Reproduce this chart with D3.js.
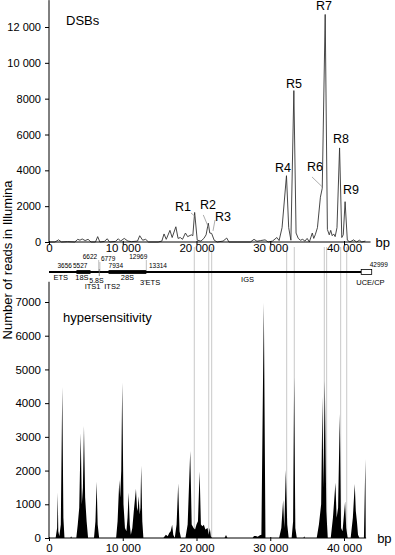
<!DOCTYPE html>
<html>
<head>
  <meta charset="UTF-8">
  <title>DSBs and hypersensitivity along the rDNA unit</title>
  <style>
    body { margin: 0; background: #fff; }
    svg { display: block; font-family: "Liberation Sans", Arial, sans-serif; }
    .tick line { stroke: #000; }
  </style>
</head>
<body>
<svg></svg>
<script src="https://d3js.org/d3.v7.min.js"></script>
<script>

// DSBs panel (reads per position)
const dsbBp = [0, 800, 1300, 1700, 2500, 3500, 3900, 4200, 4500, 4900, 5300, 5700, 6300, 6600, 6900, 7500, 7900, 8200,
  9000, 9400, 9700, 10200, 10700, 11200, 12000, 12300, 12700, 13100, 13500, 14800, 15300, 15600, 15900, 16400, 16700,
  17200, 17500, 17800, 18100, 18500, 18800, 19300, 19500, 19750, 20100, 20600, 21000, 21300, 21600, 21800, 22050, 22400,
  22800, 23600, 24100, 24400, 25500, 27300, 27800, 28200, 28700, 29300, 29700, 30300, 30900, 31200, 31600, 32200, 32500,
  32800, 33200, 33500, 33800, 34100, 34400, 34700, 35000, 35300, 35700, 35900, 36100, 36400, 36800, 37050, 37450, 37750,
  38000, 38200, 38400, 38600, 38800, 39050, 39400, 39700, 39900, 40150, 40450, 40800, 41300, 41700, 42100, 42400, 42900];
const dsbReads = [0, 0, 120, 0, 20, 0, 150, 100, 170, 80, 150, 0, 0, 300, 0, 30, 180, 0,
  30, 180, 50, 200, 50, 20, 50, 350, 100, 150, 0, 0, 50, 450, 150, 650, 250,
  850, 200, 250, 150, 500, 300, 400, 350, 1650, 100, 50, 200, 400, 1050, 500, 480, 100,
  0, 50, 220, 0, 0, 0, 150, 40, 80, 120, 0, 50, 250, 80, 800, 3700, 800,
  100, 8450, 500, 200, 100, 150, 50, 200, 0, 500, 200, 400, 800, 2500, 3000, 12700, 700,
  400, 650, 350, 450, 300, 800, 5250, 250, 400, 2250, 100, 0, 120, 0, 100, 0, 50];

// hypersensitivity panel
const hsBp = [0, 900, 1100, 1180, 1260, 1400, 1600, 1800, 1950, 2100, 2900, 3000, 3100, 3700, 3900, 4100, 4300, 4450,
  4600, 4740, 4900, 5100, 5300, 6100, 6300, 6460, 6600, 6800, 9100, 9300, 9530, 9650, 9800, 9930, 10100, 10300, 10500,
  10650, 10800, 10950, 11100, 11300, 11500, 11790, 11950, 12050, 12150, 12300, 12400, 12500, 12650, 12800, 15500, 15850,
  16100, 16300, 16500, 16700, 16850, 17050, 17300, 17520, 17700, 17900, 18500, 18800, 19150, 19350, 19600, 19800, 20000,
  20200, 20420, 20600, 20800, 21000, 21200, 21500, 21650, 21800, 21950, 22100, 23800, 24000, 24200, 27600, 27800, 28050,
  28300, 28600, 28800, 29130, 29350, 31200, 31500, 31750, 31900, 32110, 32300, 32500, 32900, 33100, 33240, 33400, 33600,
  34500, 34600, 34700, 36300, 36600, 36900, 37080, 37200, 37400, 37600, 37800, 38200, 38500, 38840, 39000, 39200, 39430,
  39600, 39800, 40150, 40300, 40500, 40900, 41200, 41460, 41600, 41750, 41900, 42100, 42700, 42900, 42950];
const hsReads = [0, 0, 300, 1350, 200, 50, 400, 4480, 600, 0, 0, 50, 0, 0, 400, 900, 3110, 1000,
  1500, 3320, 1200, 500, 0, 0, 500, 1670, 400, 0, 0, 500, 1720, 1200, 2000, 4610, 1000, 300, 200,
  600, 1340, 400, 100, 300, 800, 1450, 800, 900, 1240, 700, 900, 2140, 500, 0, 0, 100,
  50, 150, 200, 390, 100, 0, 400, 1620, 200, 0, 0, 400, 2580, 400, 300, 250, 400,
  500, 1970, 400, 350, 390, 250, 300, 100, 300, 50, 0, 0, 90, 0, 0, 60, 60,
  40, 80, 100, 6980, 0, 0, 300, 1130, 300, 2020, 400, 0, 0, 500, 4770, 300, 0,
  0, 50, 0, 0, 400, 1000, 4190, 1500, 4660, 800, 0, 0, 600, 1640, 600, 900, 3680,
  300, 200, 1080, 300, 0, 0, 600, 1600, 800, 500, 100, 0, 0, 2340, 0];

// peak labels (R1..R9) and their anchor (bp, reads)
const peakNames = ["R1", "R2", "R3", "R4", "R5", "R6", "R7", "R8", "R9"];
const peakLabelBp = [18170, 21560, 23590, 31730, 33220, 36070, 37290, 39590, 40950];
const peakLabelReads = [1730, 1840, 1170, 3900, 8600, 3960, 12950, 5530, 2680];
// pointer lines: [bp from, reads from, bp to, reads to]
const pointers = [[19250, 1620, 19750, 1450], [20920, 1510, 21600, 840], [22510, 1230, 22240, 620], [35660, 3630, 37000, 3100]];

// grey guide lines through both panels
const guideBp = [19700, 21660, 22060, 32230, 33260, 37330, 37650, 39550, 40370];

const topYTicks = [0, 2000, 4000, 6000, 8000, 10000, 12000];
const bottomYTicks = [0, 1000, 2000, 3000, 4000, 5000, 6000, 7000];
const xTicks = [0, 10000, 20000, 30000, 40000];

// rDNA unit map
const regionNames = ["ETS", "18S", "ITS1", "5.8S", "ITS2", "28S", "3'ETS", "IGS", "UCE/CP"];
const regionStart = [0, 3656, 5527, 6622, 6779, 7934, 12969, 13314, 41600];
const regionEnd = [3656, 5527, 6622, 6779, 7934, 12969, 13314, 41600, 42999];
const coordLabels = [3656, 5527, 6622, 6779, 7934, 12969, 13314, 42999];

let width = 395, height = 555;
let svg = d3.select("svg").attr("width", width).attr("height", height);

let fmt = d => d >= 10000 ? d3.format(",")(d).replace(",", " ") : d;

let x = d3.scaleLinear().domain([0, 40000]).range([49, 344]);
let xMap = d3.scaleLinear().domain([0, 42999]).range([49, 371.7]);
let yTop = d3.scaleLinear().domain([0, 12000]).range([242, 27]);
let yBot = d3.scaleLinear().domain([0, 7000]).range([538, 302]);

// guide lines
svg.append("g").selectAll("line")
  .data(guideBp).enter().append("line")
  .attr("x1", d => x(d)).attr("x2", d => x(d))
  .attr("y1", 247).attr("y2", yBot(0))
  .attr("stroke", "#c8c8c8").attr("stroke-width", 1);

// ---- top panel: DSBs ----
let dsb = dsbBp.map((b, i) => [b, dsbReads[i]]);
svg.append("path")
  .datum(dsb)
  .attr("fill", "none")
  .attr("stroke", "#333")
  .attr("stroke-width", 0.9)
  .attr("d", d3.line().x(d => x(d[0])).y(d => yTop(d[1])));

function yAxis(scale, ticks, top, fs) {
  let g = svg.append("g").attr("transform", "translate(49,0)");
  g.call(d3.axisLeft(scale).tickValues(d3.range(0, top + 1, 500)).tickSize(2).tickFormat(""));
  g.call(d3.axisLeft(scale).tickValues(ticks).tickSize(4).tickPadding(4).tickFormat(fmt));
  g.selectAll(".domain").remove();
  g.append("line").attr("x1", 0).attr("x2", 0)
    .attr("y1", scale(0)).attr("y2", scale(top + 300)).attr("stroke", "#000");
  g.selectAll("text").attr("font-size", fs).attr("font-family", "Liberation Sans, Arial, sans-serif").attr("fill", "#000");
}

function xAxis(y0, end, pad) {
  let g = svg.append("g").attr("transform", "translate(0," + y0 + ")");
  g.append("g").attr("transform", "translate(0,-1)")
    .call(d3.axisBottom(x).tickValues(d3.range(0, 43001, 1000)).tickSize(3).tickFormat(""));
  g.call(d3.axisBottom(x).tickValues(xTicks).tickSize(4).tickPadding(pad).tickFormat(fmt));
  g.selectAll(".domain").remove();
  g.append("line").attr("x1", x(0)).attr("x2", x(end)).attr("y1", 0).attr("y2", 0).attr("stroke", "#000");
  g.selectAll("text").attr("font-size", 11.5).attr("font-family", "Liberation Sans, Arial, sans-serif").attr("fill", "#000");
  return g;
}

yAxis(yTop, topYTicks, 13200, 11);
xAxis(yTop(0), 43600, -1);
svg.append("text").attr("x", x(43600) + 5).attr("y", 247).attr("font-size", 13).text("bp");
svg.append("text").attr("x", 66).attr("y", 25).attr("font-size", 13).text("DSBs");

svg.append("g").selectAll("line")
  .data(pointers).enter().append("line")
  .attr("x1", d => x(d[0])).attr("y1", d => yTop(d[1]))
  .attr("x2", d => x(d[2])).attr("y2", d => yTop(d[3]))
  .attr("stroke", "#999").attr("stroke-width", 0.8);

svg.append("g").selectAll("text")
  .data(peakNames).enter().append("text")
  .attr("x", (d, i) => x(peakLabelBp[i]))
  .attr("y", (d, i) => yTop(peakLabelReads[i]))
  .attr("text-anchor", "middle")
  .attr("font-size", 12.5)
  .text(d => d);

// ---- rDNA map ----
let mapY = 272;
svg.append("line")
  .attr("x1", xMap(0)).attr("x2", xMap(regionStart[8]))
  .attr("y1", mapY).attr("y2", mapY)
  .attr("stroke", "#000").attr("stroke-width", 2);

[1, 5].forEach(i => {
  svg.append("rect")
    .attr("x", xMap(regionStart[i])).attr("width", xMap(regionEnd[i]) - xMap(regionStart[i]))
    .attr("y", mapY - 1.9).attr("height", 3.8).attr("fill", "#000");
});
svg.append("rect")
  .attr("x", xMap(regionStart[8])).attr("width", xMap(regionEnd[8]) - xMap(regionStart[8]))
  .attr("y", mapY - 2.5).attr("height", 5)
  .attr("fill", "#fff").attr("stroke", "#000").attr("stroke-width", 0.8);
svg.append("line")
  .attr("x1", xMap(6700)).attr("x2", xMap(6700)).attr("y1", mapY - 3).attr("y2", mapY + 4)
  .attr("stroke", "#666").attr("stroke-width", 0.8);

// label placement for the map: [dx, baseline, font size]
let regionPlace = [[-2, 280, 7.5], [-1.5, 280, 7.5], [-2, 289, 7.5], [-2.8, 282.5, 7], [8, 289, 7.5],
  [0, 280, 7.5], [2.5, 285, 7.5], [-7.5, 282, 7.5], [4, 285, 7.5]];
svg.append("g").selectAll("text")
  .data(regionNames).enter().append("text")
  .attr("x", (d, i) => xMap((regionStart[i] + regionEnd[i]) / 2) + regionPlace[i][0])
  .attr("y", (d, i) => regionPlace[i][1])
  .attr("text-anchor", "middle")
  .attr("font-size", (d, i) => regionPlace[i][2])
  .text(d => d);

// [anchor, dx, baseline]
let coordPlace = [["end", -4.5, 268], ["end", -3, 268], ["end", -1.5, 259], ["start", 1, 261],
  ["start", 0, 268], ["end", 1, 259], ["start", 0, 268], ["start", -2, 267]];
svg.append("g").selectAll("line")
  .data([2, 3, 5]).enter().append("line")
  .attr("x1", i => xMap(coordLabels[i])).attr("x2", i => xMap(coordLabels[i]))
  .attr("y1", i => coordPlace[i][2] + 1).attr("y2", mapY - 1)
  .attr("stroke", "#999").attr("stroke-width", 0.6);
svg.append("g").selectAll("text")
  .data(coordLabels).enter().append("text")
  .attr("x", (d, i) => xMap(d) + coordPlace[i][1])
  .attr("y", (d, i) => coordPlace[i][2])
  .attr("text-anchor", (d, i) => coordPlace[i][0])
  .attr("font-size", 6.5)
  .text(d => d);

// ---- bottom panel: hypersensitivity ----
let hs = hsBp.map((b, i) => [b, hsReads[i]]);
svg.append("path")
  .datum(hs)
  .attr("fill", "#000")
  .attr("d", d3.area().x(d => x(d[0])).y0(yBot(0)).y1(d => yBot(d[1])));

yAxis(yBot, bottomYTicks, 7300, 11.5);
xAxis(yBot(0), 43000, 3);
svg.append("text").attr("x", x(43000) + 11).attr("y", 543).attr("font-size", 13).text("bp");
svg.append("text").attr("x", 63).attr("y", 322).attr("font-size", 13).text("hypersensitivity");

svg.append("text")
  .attr("transform", "translate(12,260) rotate(-90)")
  .attr("text-anchor", "middle")
  .attr("font-size", 13)
  .text("Number of reads in Illumina");

</script>
</body>
</html>
